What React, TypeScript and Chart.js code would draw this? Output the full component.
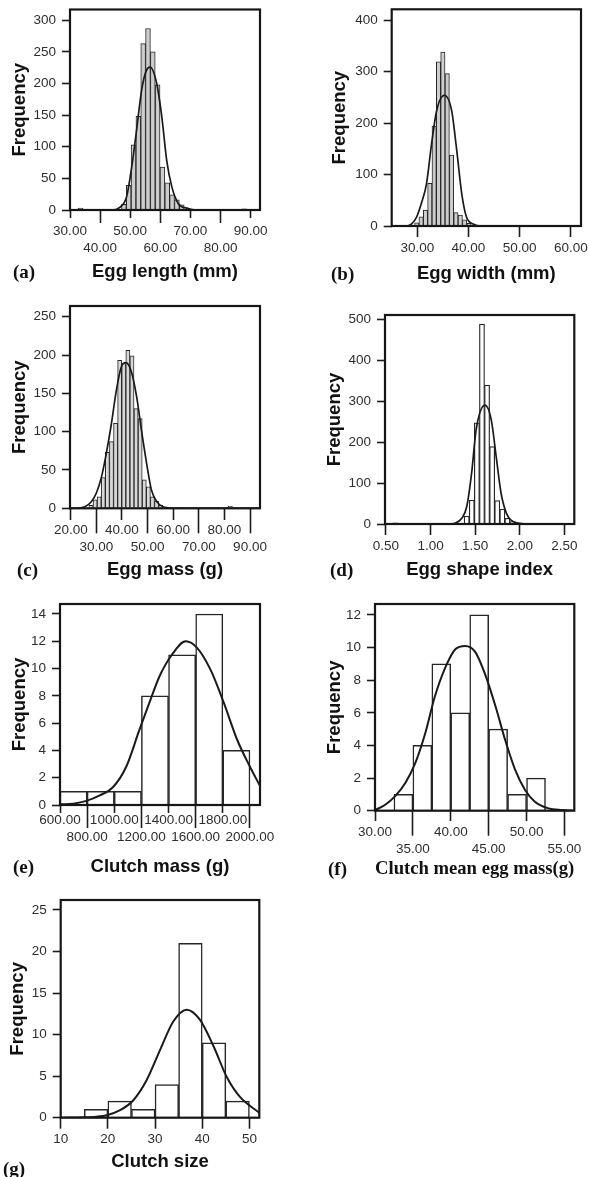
import React, { useEffect, useRef } from 'react';
import { Chart, registerables } from 'chart.js';

Chart.register(...registerables);

// ---------------- DATA ----------------
// (a) Egg length
const A_BINS = [33.5, 47.9, 49.5, 51.1, 52.7, 54.3, 55.9, 57.5, 59.1, 60.7, 62.3, 63.9, 65.5, 67.1, 71.9, 78.3, 87.9];
const A_FREQ = [3, 9, 39, 103, 148, 263, 287, 250, 198, 68, 43, 24, 16, 8, 1, 1, 2];
const A_CURVE_X = [30, 44.3, 46.5, 48.8, 50.5, 52.1, 53.8, 55.3, 56.6, 58.8, 60.5, 62.1, 63.8, 66.0, 68.8, 72.0, 93.0];
const A_CURVE_Y = [0, 0, 4, 21, 68, 126, 190, 220, 226, 200, 147, 79, 37, 10, 3, 0, 0];
const A_XTICKS = [30, 40, 50, 60, 70, 80, 90];
const A_YTICKS = [0, 50, 100, 150, 200, 250, 300];

// (b) Egg width
const B_BINS = [29.9, 30.75, 31.6, 32.45, 33.3, 34.15, 35.0, 35.85, 36.7, 37.55, 38.4, 39.25, 40.1, 55.2, 56.05];
const B_FREQ = [6, 18, 31, 83, 194, 319, 338, 296, 138, 26, 21, 12, 5, 1, 1];
const B_CURVE_X = [25, 28.0, 28.9, 29.9, 30.8, 31.8, 32.8, 33.8, 35.3, 36.7, 37.7, 38.7, 39.6, 40.9, 42.6, 62];
const B_CURVE_Y = [0, 0, 4, 18, 44, 82, 160, 225, 254, 225, 148, 62, 18, 4, 0, 0];
const B_XTICKS = [30, 40, 50, 60];
const B_YTICKS = [0, 100, 200, 300, 400];

// (c) Egg mass
const C_BINS = [27.9, 29.5, 31.1, 32.7, 34.3, 35.9, 37.5, 39.1, 40.7, 42.3, 43.9, 45.5, 47.1, 48.7, 50.3, 51.9, 53.5, 55.1, 56.7, 63.1, 82.3];
const C_FREQ = [4, 11, 15, 40, 73, 87, 111, 193, 189, 206, 199, 130, 117, 37, 28, 15, 9, 4, 2, 1, 3];
const C_CURVE_X = [19.7, 22.2, 25.5, 28.1, 30.0, 32.0, 33.9, 35.9, 37.8, 39.8, 41.5, 43.7, 45.7, 47.6, 49.6, 51.5, 53.5, 56.0, 60.0, 93.9];
const C_CURVE_Y = [0, 0, 2, 9, 20, 41, 72, 111, 154, 185, 190, 178, 146, 102, 59, 24, 9, 2, 0, 0];
const C_XTICKS = [20, 30, 40, 50, 60, 70, 80, 90];
const C_YTICKS = [0, 50, 100, 150, 200, 250];

// (d) Egg shape index
const D_BINS = [0.607, 1.405, 1.462, 1.519, 1.576, 1.633, 1.69, 1.747, 1.804, 1.861, 1.918, 2.431];
const D_FREQ = [3, 19, 58, 247, 488, 339, 189, 57, 36, 14, 6, 1];
const D_CURVE_X = [0.49, 1.2, 1.275, 1.35, 1.405, 1.46, 1.51, 1.61, 1.68, 1.74, 1.79, 1.85, 1.91, 1.98, 2.07, 2.61];
const D_CURVE_Y = [0, 0, 2, 14, 42, 124, 229, 290, 254, 156, 75, 26, 8, 2, 0, 0];
const D_XTICKS = [0.5, 1.0, 1.5, 2.0, 2.5];
const D_YTICKS = [0, 100, 200, 300, 400, 500];

// (e) Clutch mass
const E_BINS = [700, 900, 1100, 1300, 1500, 1700, 1900];
const E_FREQ = [1, 1, 1, 8, 11, 14, 4];
const E_CURVE_X = [600, 698, 795, 893, 990, 1088, 1185, 1259, 1332, 1417, 1527, 1612, 1710, 1807, 1905, 2000, 2074];
const E_CURVE_Y = [0.05, 0.1, 0.3, 0.7, 1.3, 2.8, 5.5, 7.5, 9.4, 10.9, 12.0, 11.5, 9.9, 7.5, 4.8, 2.8, 1.4];
const E_XTICKS = [600, 800, 1000, 1200, 1400, 1600, 1800, 2000];
const E_YTICKS = [0, 2, 4, 6, 8, 10, 12, 14];

// (f) Clutch mean egg mass
const F_BINS = [33.75, 36.25, 38.75, 41.25, 43.75, 46.25, 48.75, 51.25];
const F_FREQ = [1, 4, 9, 6, 12, 5, 1, 2];
const F_CURVE_X = [30, 31.3, 32.6, 34.0, 35.3, 36.6, 37.9, 39.3, 40.6, 41.9, 43.2, 44.5, 45.9, 47.2, 48.5, 49.8, 51.1, 52.9, 54.7, 56.3];
const F_CURVE_Y = [0.04, 0.35, 0.86, 1.7, 2.9, 4.7, 7.0, 8.8, 9.9, 10.1, 9.75, 8.4, 6.4, 4.3, 2.5, 1.27, 0.55, 0.14, 0.04, 0];
const F_XTICKS = [30, 35, 40, 45, 50, 55];
const F_YTICKS = [0, 2, 4, 6, 8, 10, 12];

// (g) Clutch size
const G_BINS = [17.5, 22.5, 27.5, 32.5, 37.5, 42.5, 47.5];
const G_FREQ = [1, 2, 1, 4, 21, 9, 2];
const G_CURVE_X = [10, 14.8, 17.6, 19.8, 22.6, 25.4, 28.2, 31.1, 33.9, 36.7, 39.5, 42.4, 45.2, 48.0, 52.1];
const G_CURVE_Y = [0, 0.04, 0.12, 0.3, 0.9, 2.1, 4.5, 8.2, 11.6, 13.0, 11.8, 8.6, 4.9, 2.5, 0.6];
const G_XTICKS = [10, 20, 30, 40, 50];
const G_YTICKS = [0, 5, 10, 15, 20, 25];

// ---------------- STYLE / LAYOUT ----------------
const SANS = '"Liberation Sans", Arial, sans-serif';
const SERIF = '"Liberation Serif", "Times New Roman", serif';
const TICK_SIZE = 13.5;
const TICK_LH = 17;

type PanelCfg = {
  id: string;
  tag: string; tagX: number; tagCy: number;
  box: [number, number, number, number];
  plot: [number, number, number, number];
  xMin: number; xMax: number; yMax: number;
  xTicks: number[]; yTicks: number[]; dec: number;
  stagger: boolean; longTick: number; shortTick: number; rowCy: number;
  bins: number[]; freq: number[]; cx: number[]; cy: number[];
  xTitle: string; xTitleCy: number; xTitleSerif: boolean; xTitleSize: number;
  yTitleCx: number;
  fill: string; barBorder: number; curveW: number;
};

const PANELS: PanelCfg[] = [
  { id: 'a', tag: '(a)', tagX: 13, tagCy: 272, box: [0, 0, 295, 290], plot: [70, 9.5, 260, 210],
    xMin: 30, xMax: 93.1, yMax: 317, xTicks: A_XTICKS, yTicks: A_YTICKS, dec: 2,
    stagger: true, longTick: 13, shortTick: 8, rowCy: 231,
    bins: A_BINS, freq: A_FREQ, cx: A_CURVE_X, cy: A_CURVE_Y,
    xTitle: 'Egg length (mm)', xTitleCy: 272, xTitleSerif: false, xTitleSize: 18.5, yTitleCx: 19.5,
    fill: '#cdcdcd', barBorder: 1, curveW: 1.7 },
  { id: 'b', tag: '(b)', tagX: 331, tagCy: 274, box: [295, 0, 294, 290], plot: [391.7, 9.3, 581, 226],
    xMin: 25, xMax: 62, yMax: 421, xTicks: B_XTICKS, yTicks: B_YTICKS, dec: 2,
    stagger: false, longTick: 11, shortTick: 11, rowCy: 248,
    bins: B_BINS, freq: B_FREQ, cx: B_CURVE_X, cy: B_CURVE_Y,
    xTitle: 'Egg width (mm)', xTitleCy: 274, xTitleSerif: false, xTitleSize: 18.5, yTitleCx: 340,
    fill: '#cdcdcd', barBorder: 1, curveW: 1.7 },
  { id: 'c', tag: '(c)', tagX: 17, tagCy: 570, box: [0, 290, 295, 295], plot: [70, 306, 260, 508.3],
    xMin: 19.7, xMax: 93.9, yMax: 264, xTicks: C_XTICKS, yTicks: C_YTICKS, dec: 2,
    stagger: true, longTick: 25, shortTick: 12, rowCy: 530,
    bins: C_BINS, freq: C_FREQ, cx: C_CURVE_X, cy: C_CURVE_Y,
    xTitle: 'Egg mass (g)', xTitleCy: 570, xTitleSerif: false, xTitleSize: 18.5, yTitleCx: 19.5,
    fill: '#d8d8d8', barBorder: 1, curveW: 1.7 },
  { id: 'd', tag: '(d)', tagX: 330, tagCy: 570, box: [295, 290, 294, 295], plot: [385, 315, 574.3, 524],
    xMin: 0.49, xMax: 2.61, yMax: 510, xTicks: D_XTICKS, yTicks: D_YTICKS, dec: 2,
    stagger: false, longTick: 11, shortTick: 11, rowCy: 546.7,
    bins: D_BINS, freq: D_FREQ, cx: D_CURVE_X, cy: D_CURVE_Y,
    xTitle: 'Egg shape index', xTitleCy: 570, xTitleSerif: false, xTitleSize: 18.5, yTitleCx: 334.5,
    fill: '#ffffff', barBorder: 1.2, curveW: 1.7 },
  { id: 'e', tag: '(e)', tagX: 13, tagCy: 867, box: [0, 585, 295, 295], plot: [60, 604, 260, 805],
    xMin: 600, xMax: 2074, yMax: 14.73, xTicks: E_XTICKS, yTicks: E_YTICKS, dec: 2,
    stagger: true, longTick: 23, shortTick: 8, rowCy: 820,
    bins: E_BINS, freq: E_FREQ, cx: E_CURVE_X, cy: E_CURVE_Y,
    xTitle: 'Clutch mass (g)', xTitleCy: 867, xTitleSerif: false, xTitleSize: 18.5, yTitleCx: 19.5,
    fill: '#ffffff', barBorder: 1.5, curveW: 2 },
  { id: 'f', tag: '(f)', tagX: 328, tagCy: 869, box: [295, 585, 294, 295], plot: [375, 604, 574.3, 810.7],
    xMin: 30, xMax: 56.3, yMax: 12.67, xTicks: F_XTICKS, yTicks: F_YTICKS, dec: 2,
    stagger: true, longTick: 25, shortTick: 10, rowCy: 832,
    bins: F_BINS, freq: F_FREQ, cx: F_CURVE_X, cy: F_CURVE_Y,
    xTitle: 'Clutch mean egg mass(g)', xTitleCy: 869, xTitleSerif: true, xTitleSize: 19.5, yTitleCx: 334.5,
    fill: '#ffffff', barBorder: 1.5, curveW: 2 },
  { id: 'g', tag: '(g)', tagX: 3, tagCy: 1169, box: [0, 880, 295, 297], plot: [60.7, 900, 259.3, 1117.7],
    xMin: 10, xMax: 52.1, yMax: 26.2, xTicks: G_XTICKS, yTicks: G_YTICKS, dec: 0,
    stagger: false, longTick: 11, shortTick: 11, rowCy: 1139.3,
    bins: G_BINS, freq: G_FREQ, cx: G_CURVE_X, cy: G_CURVE_Y,
    xTitle: 'Clutch size', xTitleCy: 1162.3, xTitleSerif: false, xTitleSize: 18.5, yTitleCx: 18,
    fill: '#ffffff', barBorder: 1.5, curveW: 2 },
];

const framePlugin = {
  id: 'frame',
  afterDatasetsDraw(chart: any) {
    const { ctx, chartArea } = chart;
    const { left, top, right, bottom } = chartArea;
    ctx.save();
    ctx.strokeStyle = '#161616';
    ctx.lineWidth = 2.2;
    ctx.strokeRect(left, top, right - left, bottom - top);
    ctx.restore();
  },
};

function Panel({ cfg }: { cfg: PanelCfg }) {
  const ref = useRef<HTMLCanvasElement>(null);
  useEffect(() => {
    const [bx, by, bw, bh] = cfg.box;
    const [pl, pt, pr, pb] = cfg.plot;
    const yTitleSize = 18.5;
    const yTlh = yTitleSize * 1.2;
    const xTlh = cfg.xTitleSize * 1.2;
    const yAxisLeft = cfg.yTitleCx - yTlh / 2;
    const yAxisW = pl - yAxisLeft;
    const xAxisBottom = cfg.xTitleCy + xTlh / 2;
    const xAxisH = xAxisBottom - pb;
    const xPad = cfg.rowCy - pb - cfg.longTick - TICK_LH / 2;
    const fmt = (v: number) => Number(v).toFixed(cfg.dec);

    const chart = new Chart(ref.current as HTMLCanvasElement, {
      type: 'bar',
      data: {
        datasets: [
          {
            type: 'line',
            data: cfg.cx.map((x, i) => ({ x, y: cfg.cy[i] })),
            borderColor: '#1a1a1a',
            borderWidth: cfg.curveW,
            pointRadius: 0,
            cubicInterpolationMode: 'monotone',
            fill: false,
            order: 0,
          } as any,
          {
            type: 'bar',
            data: cfg.bins.map((x, i) => ({ x, y: cfg.freq[i] })),
            backgroundColor: cfg.fill,
            borderColor: '#262626',
            borderWidth: cfg.barBorder,
            barPercentage: 1,
            categoryPercentage: 1,
            order: 1,
          } as any,
        ],
      },
      options: {
        responsive: false,
        animation: false,
        devicePixelRatio: 1,
        events: [],
        layout: {
          padding: {
            left: yAxisLeft - bx,
            top: pt - by,
            right: bx + bw - pr,
            bottom: by + bh - xAxisBottom,
          },
        },
        plugins: { legend: { display: false }, tooltip: { enabled: false }, title: { display: false } },
        scales: {
          x: {
            type: 'linear',
            min: cfg.xMin,
            max: cfg.xMax,
            offset: false,
            border: { display: false },
            grid: {
              offset: false,
              drawOnChartArea: false,
              drawTicks: true,
              tickLength: cfg.longTick,
              tickColor: '#1c1c1c',
              tickWidth: 1.6,
              tickBorderDash: (c: any) => (cfg.stagger && c.index % 2 === 0 ? [cfg.shortTick, 300] : []),
            },
            ticks: {
              autoSkip: false,
              maxRotation: 0,
              minRotation: 0,
              padding: xPad,
              color: '#2e2e2e',
              font: { family: SANS, size: TICK_SIZE, lineHeight: TICK_LH / TICK_SIZE },
              callback: (v: any, i: number) => (cfg.stagger && i % 2 === 1 ? ['', fmt(v)] : fmt(v)),
            },
            afterBuildTicks: (s: any) => {
              s.ticks = cfg.xTicks.map((v) => ({ value: v }));
            },
            afterFit: (s: any) => {
              s.height = xAxisH;
              s.paddingLeft = 0;
              s.paddingRight = 0;
            },
            title: {
              display: true,
              text: cfg.xTitle,
              color: '#111111',
              padding: 0,
              font: { family: cfg.xTitleSerif ? SERIF : SANS, size: cfg.xTitleSize, weight: 'bold', lineHeight: 1.2 },
            },
          } as any,
          y: {
            type: 'linear',
            min: 0,
            max: cfg.yMax,
            border: { display: false },
            grid: {
              drawOnChartArea: false,
              drawTicks: true,
              tickLength: 8,
              tickColor: '#1c1c1c',
              tickWidth: 1.6,
            },
            ticks: {
              padding: 6,
              color: '#2e2e2e',
              font: { family: SANS, size: TICK_SIZE },
              callback: (v: any) => String(v),
            },
            afterBuildTicks: (s: any) => {
              s.ticks = cfg.yTicks.map((v) => ({ value: v }));
            },
            afterFit: (s: any) => {
              s.width = yAxisW;
              s.paddingTop = 0;
              s.paddingBottom = 0;
            },
            title: {
              display: true,
              text: 'Frequency',
              color: '#111111',
              padding: 0,
              font: { family: SANS, size: yTitleSize, weight: 'bold', lineHeight: 1.2 },
            },
          } as any,
        },
      },
      plugins: [framePlugin],
    });
    return () => chart.destroy();
  }, [cfg]);

  const [bx, by, bw, bh] = cfg.box;
  return (
    <canvas
      ref={ref}
      width={bw}
      height={bh}
      style={{ position: 'absolute', left: bx, top: by, width: bw, height: bh }}
    />
  );
}

export default function App() {
  return (
    <div
      style={{
        position: 'absolute',
        left: 0,
        top: 0,
        width: 589,
        height: 1177,
        overflow: 'hidden',
        background: '#ffffff',
      }}
    >
      {PANELS.map((p) => (
        <Panel key={p.id} cfg={p} />
      ))}
      {PANELS.map((p) => (
        <div
          key={'tag-' + p.id}
          style={{
            position: 'absolute',
            left: p.tagX,
            top: p.tagCy - 10,
            height: 20,
            lineHeight: '20px',
            fontFamily: SERIF,
            fontWeight: 'bold',
            fontSize: 19,
            color: '#111111',
            whiteSpace: 'nowrap',
          }}
        >
          {p.tag}
        </div>
      ))}
    </div>
  );
}
